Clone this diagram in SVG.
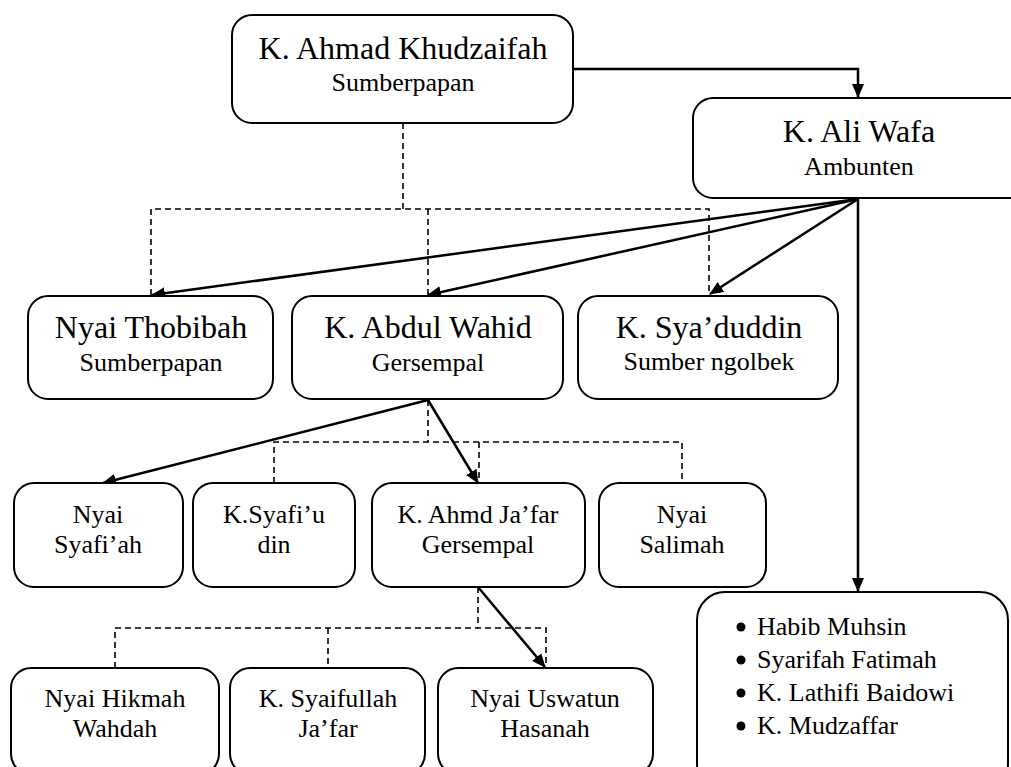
<svg xmlns="http://www.w3.org/2000/svg" width="1011" height="767" viewBox="0 0 1011 767">
<style>
.box{fill:#fff;stroke:#000;stroke-width:2}
.t{fill:#000;text-anchor:middle}
.big{font-size:32px}
.sub{font-size:26px}
.li{font-size:26px;fill:#000}
.arr{fill:none;stroke:#000;stroke-width:2.5;marker-end:url(#ah)}
.dash{fill:none;stroke:#000;stroke-width:1.6;stroke-dasharray:6 4}
</style>
<defs>
<marker id="ah" viewBox="0 0 14 12" refX="13" refY="6" markerWidth="14" markerHeight="12" orient="auto" markerUnits="userSpaceOnUse">
<path d="M0,0 L14,6 L0,12 z" fill="#000"/>
</marker>
</defs>
<rect width="1011" height="767" fill="#fff"/>
<g id="connectors">
<path class="dash" d="M403,123 V209 M151,295 V209 H709 V295 M428,209 V295"/>
<path class="dash" d="M428,400 V442 M274,483 V442 H682 V483 M479,442 V483"/>
<path class="dash" d="M478,587 V628 M115,668 V628 H546 V668 M328,628 V668"/>
<path class="arr" d="M573,69 H858 V97"/>
<path class="arr" d="M858,199 L152,295"/>
<path class="arr" d="M858,199 L428,295"/>
<path class="arr" d="M858,199 L710,294"/>
<path class="arr" d="M858,199 V591"/>
<path class="arr" d="M428,400 L103,483"/>
<path class="arr" d="M428,400 L478,483"/>
<path class="arr" d="M478,587 L545,667"/>
</g>
<g font-family="Liberation Serif, Tinos, Times New Roman, DejaVu Serif, serif">
<g id="n-khudzaifah">
<rect class="box" x="232" y="15" width="341" height="108" rx="20"/>
<text class="t big" x="403" y="59">K. Ahmad Khudzaifah</text>
<text class="t sub" x="403" y="91">Sumberpapan</text>
</g>
<g id="n-aliwafa">
<rect class="box" x="693" y="98" width="340" height="100" rx="20"/>
<text class="t big" x="859" y="142">K. Ali Wafa</text>
<text class="t sub" x="859" y="175">Ambunten</text>
</g>
<g id="n-thobibah">
<rect class="box" x="28" y="296" width="245" height="103" rx="20"/>
<text class="t big" x="151" y="338">Nyai Thobibah</text>
<text class="t sub" x="151" y="371">Sumberpapan</text>
</g>
<g id="n-abdulwahid">
<rect class="box" x="292" y="296" width="271" height="103" rx="20"/>
<text class="t big" x="428" y="338">K. Abdul Wahid</text>
<text class="t sub" x="428" y="371">Gersempal</text>
</g>
<g id="n-syaduddin">
<rect class="box" x="578" y="296" width="260" height="103" rx="20"/>
<text class="t big" x="709" y="338">K. Sya’duddin</text>
<text class="t sub" x="709" y="370">Sumber ngolbek</text>
</g>
<g id="n-syafiah">
<rect class="box" x="14" y="483" width="169" height="104" rx="20"/>
<text class="t sub" x="98" y="523">Nyai</text>
<text class="t sub" x="98" y="553">Syafi’ah</text>
</g>
<g id="n-syafiudin">
<rect class="box" x="193" y="483" width="162" height="104" rx="20"/>
<text class="t sub" x="274" y="523">K.Syafi’u</text>
<text class="t sub" x="274" y="553">din</text>
</g>
<g id="n-jafar">
<rect class="box" x="372" y="483" width="213" height="104" rx="20"/>
<text class="t sub" x="478" y="523">K. Ahmd Ja’far</text>
<text class="t sub" x="478" y="553">Gersempal</text>
</g>
<g id="n-salimah">
<rect class="box" x="599" y="483" width="167" height="104" rx="20"/>
<text class="t sub" x="682" y="523">Nyai</text>
<text class="t sub" x="682" y="553">Salimah</text>
</g>
<g id="n-hikmah">
<rect class="box" x="11" y="668" width="208" height="106" rx="20"/>
<text class="t sub" x="115" y="707">Nyai Hikmah</text>
<text class="t sub" x="115" y="737">Wahdah</text>
</g>
<g id="n-syaifullah">
<rect class="box" x="230" y="668" width="195" height="106" rx="20"/>
<text class="t sub" x="328" y="707">K. Syaifullah</text>
<text class="t sub" x="328" y="737">Ja’far</text>
</g>
<g id="n-uswatun">
<rect class="box" x="438" y="668" width="215" height="106" rx="20"/>
<text class="t sub" x="545" y="707">Nyai Uswatun</text>
<text class="t sub" x="545" y="737">Hasanah</text>
</g>
<g id="n-list">
<rect class="box" x="697" y="592" width="311" height="200" rx="28"/>
<circle cx="741" cy="627" r="4.5"/>
<circle cx="741" cy="660" r="4.5"/>
<circle cx="741" cy="693" r="4.5"/>
<circle cx="741" cy="726" r="4.5"/>
<text class="li" x="757" y="635">Habib Muhsin</text>
<text class="li" x="757" y="668">Syarifah Fatimah</text>
<text class="li" x="757" y="701">K. Lathifi Baidowi</text>
<text class="li" x="757" y="734">K. Mudzaffar</text>
</g>
</g>
</svg>
